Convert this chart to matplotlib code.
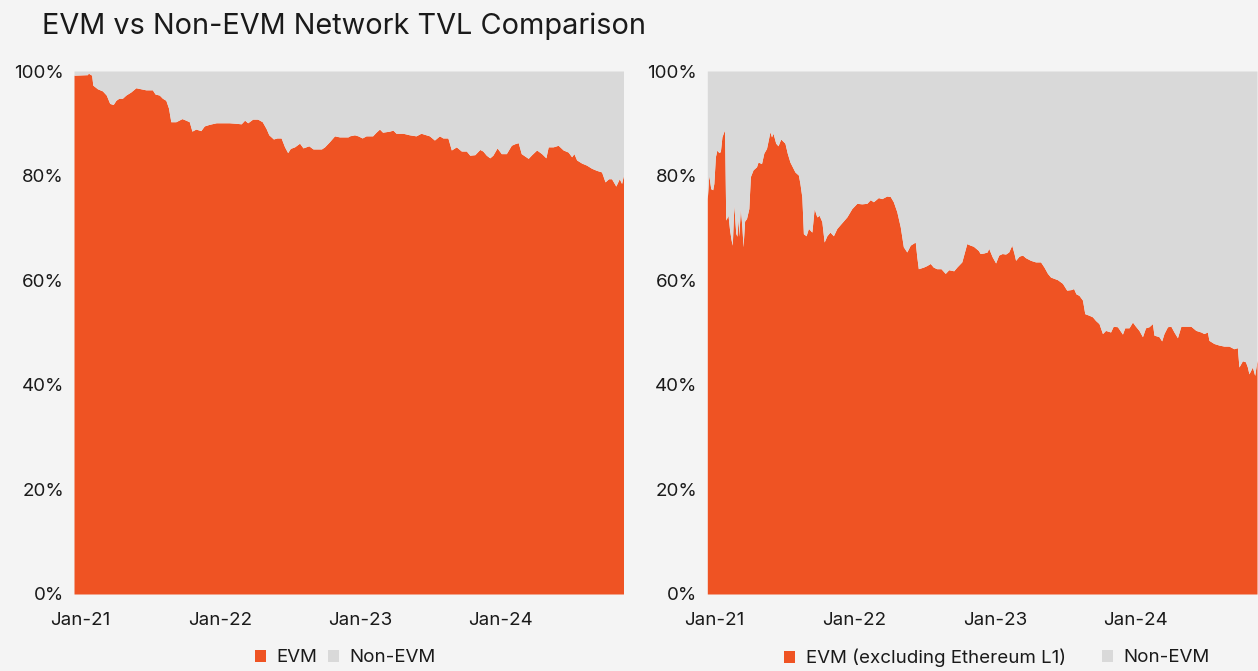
import matplotlib
matplotlib.use("Agg")
import matplotlib.pyplot as plt
from matplotlib.patches import Patch
from matplotlib.ticker import FuncFormatter
import pandas as pd
import numpy as np

plt.rcParams['font.family'] = ['Inter', 'DejaVu Sans']

TITLE = "EVM vs Non-EVM Network TVL Comparison"
TICK_YEARS = ["2021-01-01", "2022-01-01", "2023-01-01", "2024-01-01"]
TICK_LABELS = ["Jan-21", "Jan-22", "Jan-23", "Jan-24"]
Y_TICKS = [0, 20, 40, 60, 80, 100]

left_dates = [
    "2020-12-16", "2021-01-20", "2021-01-22", "2021-01-31", "2021-02-03", "2021-02-15",
    "2021-02-28", "2021-03-10", "2021-03-19", "2021-03-28", "2021-04-04", "2021-04-12",
    "2021-04-21", "2021-04-30", "2021-05-13", "2021-05-26", "2021-06-08", "2021-06-21",
    "2021-07-08", "2021-07-15", "2021-07-26", "2021-08-03", "2021-08-12", "2021-08-19",
    "2021-08-25", "2021-09-07", "2021-09-23", "2021-10-03", "2021-10-12", "2021-10-19",
    "2021-10-29", "2021-11-11", "2021-11-20", "2021-12-03", "2021-12-21", "2022-01-07",
    "2022-01-24", "2022-02-11", "2022-02-24", "2022-03-05", "2022-03-13", "2022-03-26",
    "2022-04-08", "2022-04-20", "2022-04-30", "2022-05-07", "2022-05-19", "2022-05-28",
    "2022-06-08", "2022-06-17", "2022-06-25", "2022-07-02", "2022-07-13", "2022-07-26",
    "2022-08-04", "2022-08-19", "2022-08-30", "2022-09-21", "2022-09-29", "2022-10-12",
    "2022-10-25", "2022-11-07", "2022-11-29",
    "2022-12-03", "2022-12-16", "2022-12-25", "2023-01-05", "2023-01-15", "2023-02-01",
    "2023-02-10", "2023-02-19", "2023-02-27", "2023-03-17", "2023-03-26", "2023-04-03",
    "2023-04-21", "2023-05-08", "2023-05-25", "2023-06-07", "2023-06-29", "2023-07-12",
    "2023-07-25", "2023-08-03", "2023-08-16", "2023-08-25", "2023-09-07", "2023-09-20",
    "2023-10-03", "2023-10-12", "2023-10-25", "2023-11-07", "2023-11-15", "2023-11-24",
    "2023-12-03", "2023-12-11", "2023-12-22", "2024-01-02", "2024-01-15", "2024-01-28",
    "2024-02-06", "2024-02-15", "2024-02-23", "2024-03-12", "2024-03-21", "2024-04-03",
    "2024-04-16", "2024-04-27", "2024-05-03", "2024-05-16", "2024-05-29", "2024-06-11",
    "2024-06-24", "2024-07-03", "2024-07-09", "2024-07-16", "2024-07-29", "2024-08-11",
    "2024-08-24", "2024-09-06", "2024-09-19", "2024-09-28", "2024-10-07", "2024-10-15",
    "2024-10-26", "2024-11-04", "2024-11-10", "2024-11-15",
]
left_evm = [
    99.2, 99.3, 99.6, 99.2, 97.3, 96.6,
    96.2, 95.4, 93.8, 93.6, 94.4, 94.8,
    94.8, 95.4, 96.0, 96.8, 96.6, 96.4,
    96.4, 95.6, 95.4, 94.8, 94.4, 92.9,
    90.3, 90.3, 90.9, 90.6, 90.3, 88.5,
    88.9, 88.6, 89.5, 89.8, 90.1, 90.1,
    90.1, 90.0, 89.9, 90.6, 90.1, 90.8,
    90.8, 90.3, 89.0, 87.8, 87.0, 87.2,
    87.2, 85.5, 84.4, 85.2, 85.5, 86.2,
    85.3, 85.7, 85.1, 85.1, 85.5, 86.5,
    87.6, 87.4, 87.4,
    87.6, 87.8, 87.6, 87.2, 87.6, 87.6,
    88.3, 88.9, 88.3, 88.5, 88.7, 88.1,
    88.1, 87.8, 87.6, 88.1, 87.6, 86.8,
    87.6, 87.2, 87.2, 84.9, 85.5, 84.7,
    84.7, 83.9, 84.0, 85.0, 84.7, 83.9,
    83.4, 83.9, 85.3, 84.2, 84.2, 85.8,
    86.1, 86.3, 84.2, 83.3, 84.0, 84.9,
    84.2, 83.4, 85.5, 85.5, 85.8, 84.9,
    84.5, 83.6, 84.2, 83.0, 82.4, 82.0,
    81.4, 81.0, 80.7, 78.8, 79.4, 79.4,
    78.0, 79.4, 78.5, 80.1,
]

right_dates = [
    "2020-12-14", "2020-12-18", "2020-12-23", "2020-12-28", "2020-12-31", "2021-01-04",
    "2021-01-08", "2021-01-13", "2021-01-17", "2021-01-21", "2021-01-26", "2021-01-28",
    "2021-01-31", "2021-02-06", "2021-02-10", "2021-02-14", "2021-02-17", "2021-02-21",
    "2021-02-26", "2021-03-01", "2021-03-04", "2021-03-06", "2021-03-10", "2021-03-14",
    "2021-03-17", "2021-03-21", "2021-03-26", "2021-04-01", "2021-04-05", "2021-04-12",
    "2021-04-21", "2021-04-25", "2021-05-04", "2021-05-10", "2021-05-17", "2021-05-26",
    "2021-05-30", "2021-06-03", "2021-06-10", "2021-06-16", "2021-06-23", "2021-07-04",
    "2021-07-10", "2021-07-17", "2021-07-30", "2021-08-08", "2021-08-12", "2021-08-17",
    "2021-08-21", "2021-08-28", "2021-09-03", "2021-09-12", "2021-09-18", "2021-09-25",
    "2021-10-01", "2021-10-08", "2021-10-14", "2021-10-21", "2021-10-29", "2021-11-07",
    "2021-11-16", "2021-11-29", "2021-12-12", "2021-12-25", "2022-01-07", "2022-01-20",
    "2022-02-02", "2022-02-11", "2022-02-19", "2022-03-04", "2022-03-13", "2022-03-26",
    "2022-04-04", "2022-04-12", "2022-04-21", "2022-04-30", "2022-05-08", "2022-05-17",
    "2022-05-26", "2022-06-08", "2022-06-12", "2022-06-16", "2022-06-29", "2022-07-08",
    "2022-07-17", "2022-07-25", "2022-08-03", "2022-08-14", "2022-08-25", "2022-09-03",
    "2022-09-16", "2022-09-24", "2022-10-07", "2022-10-20", "2022-10-29", "2022-11-06",
    "2022-11-19",
    "2022-11-24", "2022-12-03", "2022-12-12", "2022-12-16", "2022-12-25", "2023-01-03",
    "2023-01-11", "2023-01-20", "2023-01-29", "2023-02-06", "2023-02-14", "2023-02-20",
    "2023-02-24", "2023-03-05", "2023-03-14", "2023-03-22", "2023-04-04", "2023-04-17",
    "2023-04-30", "2023-05-09", "2023-05-18", "2023-05-26", "2023-06-13", "2023-06-26",
    "2023-07-07", "2023-07-18", "2023-07-25", "2023-07-31", "2023-08-08", "2023-08-17",
    "2023-08-23", "2023-09-03", "2023-09-12", "2023-09-20", "2023-09-29", "2023-10-08",
    "2023-10-16", "2023-10-29", "2023-11-05", "2023-11-16", "2023-11-29", "2023-12-05",
    "2023-12-16", "2023-12-25", "2024-01-02", "2024-01-11", "2024-01-20", "2024-01-28",
    "2024-02-06", "2024-02-15", "2024-02-19", "2024-03-03", "2024-03-10", "2024-03-16",
    "2024-03-25", "2024-04-03", "2024-04-11", "2024-04-20", "2024-04-29", "2024-05-12",
    "2024-05-25", "2024-06-07", "2024-06-20", "2024-06-28", "2024-07-07", "2024-07-11",
    "2024-07-24", "2024-08-06", "2024-08-19", "2024-09-01", "2024-09-14", "2024-09-23",
    "2024-09-27", "2024-10-06", "2024-10-14", "2024-10-19", "2024-10-23", "2024-11-01",
    "2024-11-07", "2024-11-13",
]
right_evm = [
    75.6, 80.1, 77.5, 77.3, 78.5, 83.6,
    84.9, 84.4, 84.6, 87.4, 88.4, 88.7,
    71.5, 72.4, 69.6, 67.7, 66.7, 74.4,
    69.0, 68.4, 71.8, 68.4, 73.7, 70.2,
    66.4, 71.3, 71.8, 73.7, 79.8, 81.1,
    81.7, 82.6, 82.3, 84.3, 85.2, 88.4,
    87.4, 88.1, 86.2, 85.7, 87.0, 86.2,
    84.3, 82.6, 80.7, 80.1, 78.5, 75.9,
    68.9, 68.5, 69.9, 69.2, 73.7, 72.1,
    72.4, 71.2, 67.3, 68.5, 69.2, 68.5,
    69.9, 71.0, 72.1, 73.7, 74.7, 74.6,
    74.7, 75.4, 75.0, 75.8, 75.6, 76.1,
    76.0, 75.0, 73.1, 70.2, 66.4, 65.4,
    66.7, 67.3, 64.5, 62.2, 62.5, 62.8,
    63.2, 62.5, 62.2, 62.2, 61.3, 62.0,
    61.8, 62.5, 63.5, 67.0, 66.7, 66.5,
    65.7,
    65.1, 65.2, 65.4, 66.1, 64.5, 63.3,
    64.8, 65.1, 65.0, 65.4, 66.7, 65.1,
    63.8, 64.6, 64.8, 64.3, 63.8, 63.5,
    63.5, 62.5, 61.3, 60.6, 60.1, 59.4,
    58.1, 58.2, 58.4, 57.4, 57.1, 56.2,
    53.6, 53.3, 53.0, 52.3, 51.7, 49.8,
    50.4, 50.1, 51.2, 51.1, 49.7, 50.9,
    50.9, 52.0, 51.2, 50.4, 49.2, 50.9,
    51.1, 51.7, 49.5, 49.2, 48.4, 49.8,
    51.1, 51.2, 50.1, 49.0, 51.2, 51.2,
    51.2, 50.4, 50.1, 49.8, 50.1, 48.5,
    47.9, 47.6, 47.4, 47.4, 46.9, 47.1,
    43.4, 44.6, 44.4, 43.4, 42.1, 43.4,
    41.8, 44.7,
]

left_legend = ["EVM", "Non-EVM"]
right_legend = ["EVM (excluding Ethereum L1)", "Non-EVM"]

ORANGE = "#EF5323"
GREY = "#D9D9D9"
BG = "#F4F4F4"
TEXT = "#1A1A1A"

W, H = 1258, 671
fig = plt.figure(figsize=(W / 100, H / 100), dpi=100, facecolor=BG)

def axes_px(x0, x1, ytop, ybot):
    return fig.add_axes([x0 / W, 1 - ybot / H, (x1 - x0) / W, (ybot - ytop) / H])

ax_l = axes_px(74, 623.5, 71, 594)
ax_r = axes_px(707.3, 1257, 71, 594)

for ax, dates, evm in [(ax_l, left_dates, left_evm), (ax_r, right_dates, right_evm)]:
    d = pd.to_datetime(dates)
    v = np.array(evm)
    ax.fill_between(d, 0, v, color=ORANGE, linewidth=0)
    ax.fill_between(d, v, 100, color=GREY, linewidth=0)
    ax.set_facecolor(BG)
    ax.set_xlim(d[0], d[-1])
    ax.set_ylim(0, 100)
    ax.set_yticks(Y_TICKS)
    ax.yaxis.set_major_formatter(FuncFormatter(lambda y, p: f"{int(y)}%"))
    ax.set_xticks(pd.to_datetime(TICK_YEARS))
    ax.set_xticklabels(TICK_LABELS)
    ax.tick_params(axis="both", length=0, labelsize=13.5, colors=TEXT)
    ax.tick_params(axis="x", pad=13)
    ax.tick_params(axis="y", pad=7.2)
    for s in ax.spines.values():
        s.set_visible(False)

fig.text(42 / W, 1 - 26 / H, TITLE, fontsize=20.8, color=TEXT, ha="left", va="center")

def add_legend_item(label, color, x_px):
    fig.legend([Patch(facecolor=color, edgecolor="none")], [label], loc="center left",
               bbox_to_anchor=(x_px / W, 1 - 658 / H), frameon=False, fontsize=13.5,
               handlelength=0.59, handleheight=0.59, handletextpad=0.57,
               borderpad=0, borderaxespad=0, labelcolor=TEXT)

for label, color, x_px in zip(left_legend, [ORANGE, GREY], [255, 327.7]):
    add_legend_item(label, color, x_px)
for label, color, x_px in zip(right_legend, [ORANGE, GREY], [784, 1101.7]):
    add_legend_item(label, color, x_px)

fig.savefig("out.png", dpi=100, facecolor=BG)
